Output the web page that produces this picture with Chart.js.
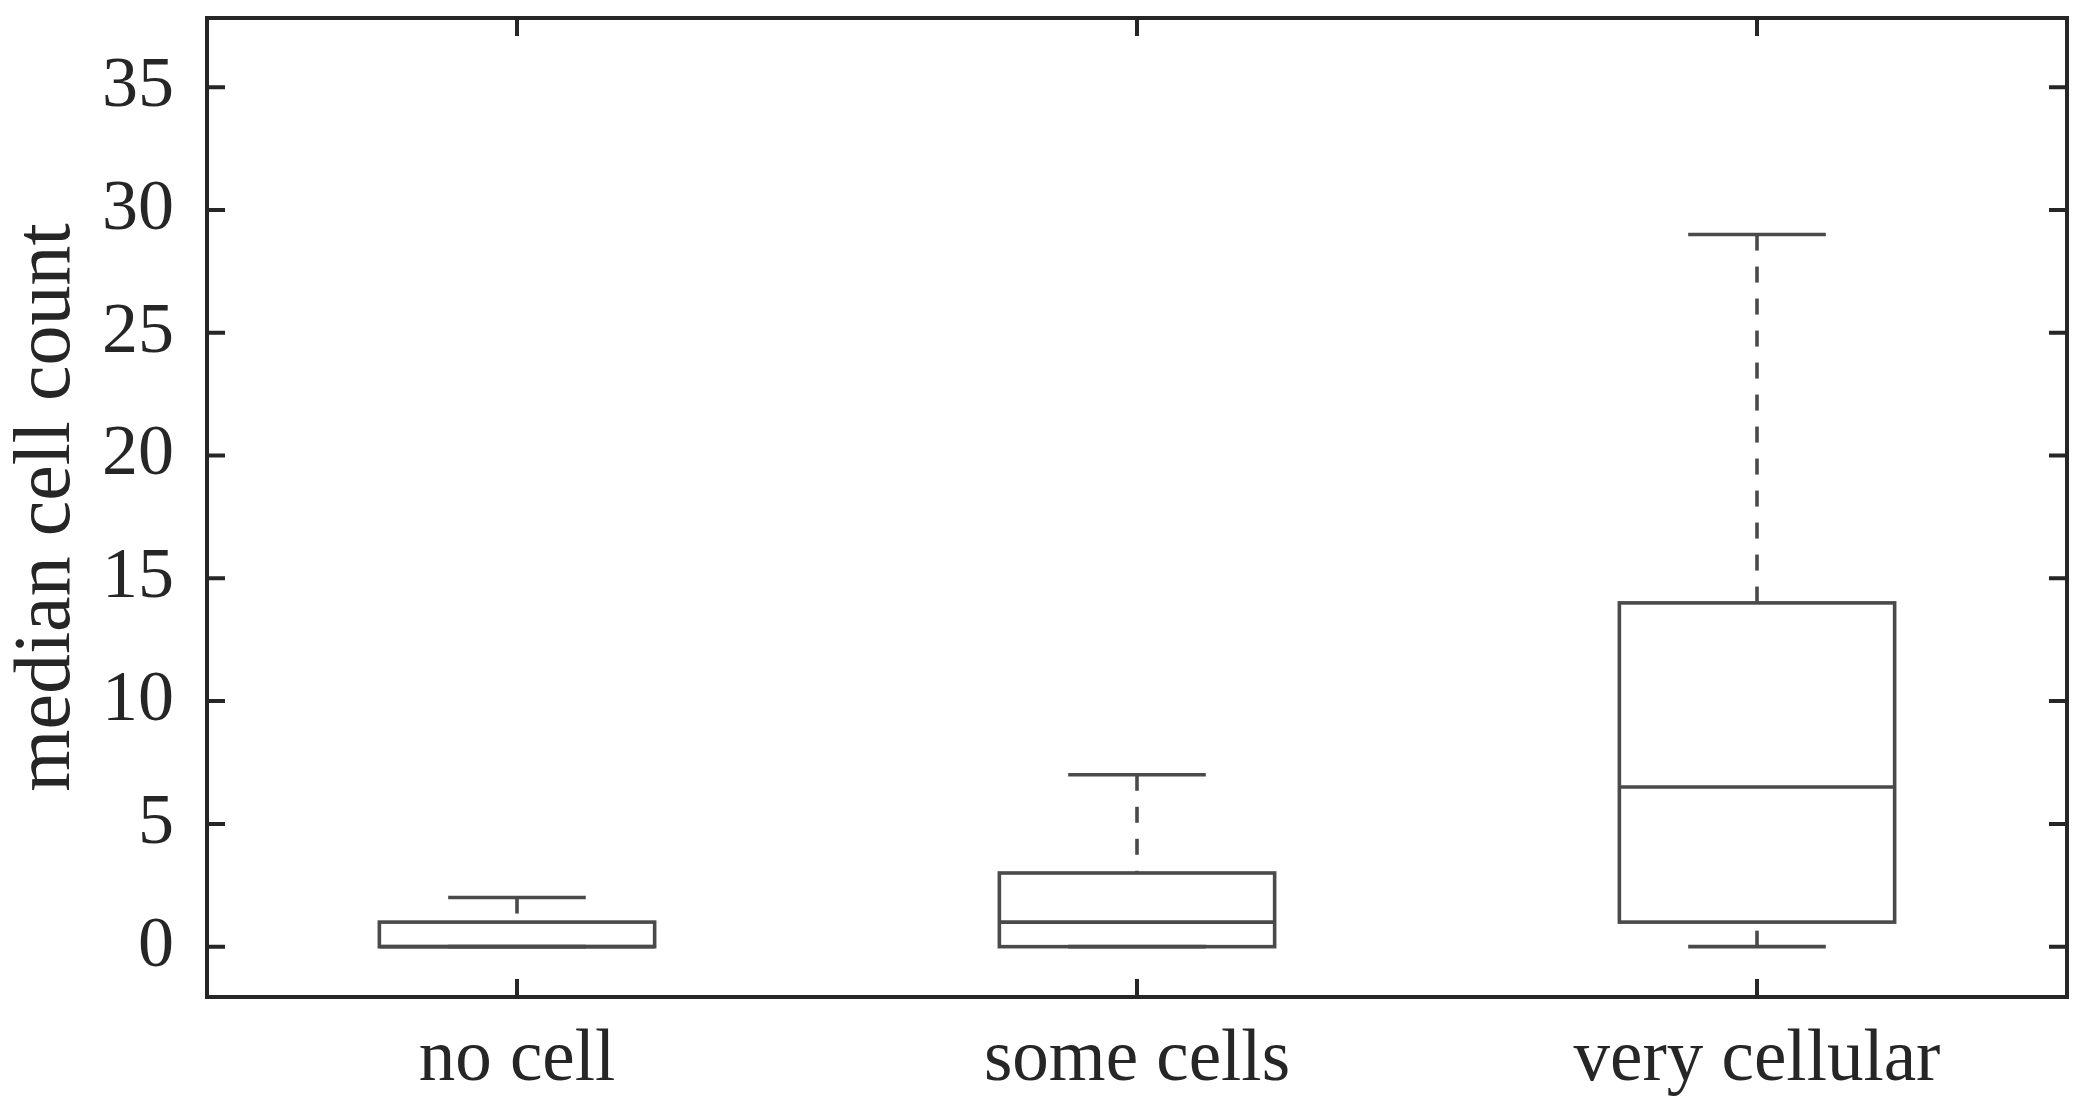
<!DOCTYPE html>
<html><head><meta charset="utf-8">
<script src="https://cdn.jsdelivr.net/npm/chart.js@4.4.1/dist/chart.umd.min.js"></script>
<style>html,body{margin:0;padding:0;background:#fff;} #wrap{width:2084px;height:1117px;position:relative;}</style>
</head><body><div id="wrap"><canvas id="c"></canvas></div>
<script>
const categories = ['no cell', 'some cells', 'very cellular'];
const whiskerLow = [0, 0, 0];
const q1 = [0, 0, 1];
const median = [0, 1, 6.5];
const q3 = [1, 3, 14];
const whiskerHigh = [2, 7, 29];
const yTickValues = [0, 5, 10, 15, 20, 25, 30, 35];
const yTitle = 'median cell count';

const boxColor = '#4a4a4a';
const axisColor = '#262626';

const boxPlugin = {
  id: 'boxExtras',
  afterDatasetsDraw(chart) {
    const ctx = chart.ctx, y = chart.scales.y;
    const meta = chart.getDatasetMeta(0);
    const line = (x1, y1, x2, y2) => { ctx.beginPath(); ctx.moveTo(x1, y1); ctx.lineTo(x2, y2); ctx.stroke(); };
    ctx.save();
    ctx.strokeStyle = boxColor; ctx.lineWidth = 3.6; ctx.lineCap = 'butt'; ctx.lineJoin = 'miter';
    meta.data.forEach((bar, i) => {
      const cx = bar.x, hw = bar.width / 2, cw = hw / 2;
      const yMed = y.getPixelForValue(median[i]);
      const yHi = y.getPixelForValue(whiskerHigh[i]);
      const yLo = y.getPixelForValue(whiskerLow[i]);
      const yQ1 = y.getPixelForValue(q1[i]);
      const yQ3 = y.getPixelForValue(q3[i]);
      ctx.setLineDash([]);
      ctx.strokeRect(cx - hw, yQ3, 2 * hw, yQ1 - yQ3);
      line(cx - hw, yMed, cx + hw, yMed);
      line(cx - cw, yHi, cx + cw, yHi);
      line(cx - cw, yLo, cx + cw, yLo);
      ctx.setLineDash([16, 16]);
      if (whiskerHigh[i] > q3[i]) line(cx, yHi, cx, yQ3);
      if (whiskerLow[i] < q1[i]) line(cx, yLo, cx, yQ1);
    });
    ctx.restore();
  },
  afterDraw(chart) {
    const ctx = chart.ctx, a = chart.chartArea, x = chart.scales.x, y = chart.scales.y;
    const tl = 18;
    ctx.save();
    ctx.strokeStyle = axisColor; ctx.lineWidth = 4; ctx.setLineDash([]);
    ctx.strokeRect(a.left, a.top, a.right - a.left, a.bottom - a.top);
    ctx.beginPath();
    yTickValues.forEach(v => {
      const py = y.getPixelForValue(v);
      ctx.moveTo(a.left, py); ctx.lineTo(a.left + tl, py);
      ctx.moveTo(a.right, py); ctx.lineTo(a.right - tl, py);
    });
    categories.forEach((c, i) => {
      const px = x.getPixelForValue(i);
      ctx.moveTo(px, a.bottom); ctx.lineTo(px, a.bottom - tl);
      ctx.moveTo(px, a.top); ctx.lineTo(px, a.top + tl);
    });
    ctx.stroke();
    ctx.restore();
  }
};

Chart.defaults.font.family = "'Liberation Serif', 'Times New Roman', serif";
Chart.defaults.color = axisColor;

new Chart(document.getElementById('c'), {
  type: 'bar',
  data: {
    labels: categories,
    datasets: [{
      data: categories.map((c, i) => [q1[i], q3[i]]),
      backgroundColor: 'rgba(255,255,255,0)',
      borderColor: 'rgba(0,0,0,0)',
      borderWidth: 0,
      barPercentage: 0.444,
      categoryPercentage: 1.0
    }]
  },
  options: {
    responsive: true,
    maintainAspectRatio: false,
    animation: false,
    devicePixelRatio: 1,
    layout: { padding: { left: 0, top: 18, right: 17, bottom: 0 } },
    plugins: { legend: { display: false }, tooltip: { enabled: false } },
    scales: {
      x: {
        grid: { display: false, drawTicks: false },
        border: { display: false },
        ticks: { font: { size: 73 }, color: axisColor, padding: 20 },
        afterFit: s => { s.height = 120; s.paddingLeft = 0; s.paddingRight = 0; }
      },
      y: {
        min: -2.05, max: 37.82,
        afterBuildTicks: s => { s.ticks = yTickValues.map(v => ({ value: v })); },
        grid: { display: false, drawTicks: false },
        border: { display: false },
        ticks: { font: { size: 72 }, color: axisColor, padding: 33 },
        title: { display: true, text: yTitle, font: { size: 80 }, color: axisColor, padding: { top: 0, bottom: 0 } },
        afterFit: s => { s.width = 207; s.paddingTop = 0; s.paddingBottom = 0; }
      }
    }
  },
  plugins: [boxPlugin]
});
</script>
</body></html>
